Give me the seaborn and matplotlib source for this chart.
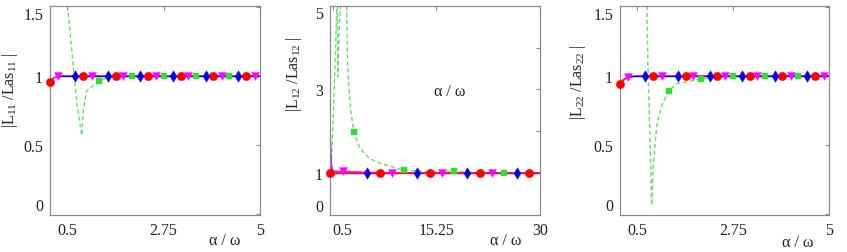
import matplotlib
matplotlib.use("Agg")
import matplotlib.pyplot as plt
import seaborn as sns
import numpy as np

# ---------------- data ----------------
# Panel 1: |L11 / Las11|
p1_red_x = [0.10, 0.20, 0.30, 5.00]
p1_red_y = [0.96, 0.99, 1.00, 1.00]
p1_mag_x = [0.15, 0.29, 5.00]
p1_mag_y = [0.98, 1.00, 1.00]
p1_blue_x = [0.29, 5.00]
p1_blue_y = [1.00, 1.00]
p1_green_x = [0.40, 0.51, 0.62, 0.72, 0.84, 0.88, 0.95, 1.23, 1.45, 2.00, 5.00]
p1_green_y = [2.00, 1.51, 1.15, 0.82, 0.57, 0.76, 0.89, 0.965, 0.99, 1.00, 1.00]

# marker positions shared by panels 1 and 3
m_red_x = [0.10, 0.87, 1.64, 2.38, 3.15, 3.90, 4.67]
m_mag_x = [0.29, 1.08, 1.80, 2.57, 3.32, 4.11, 4.88]
m_green_x = [1.24, 2.01, 2.76, 3.51, 4.28]
m_blue_x = [0.68, 1.45, 2.21, 2.97, 3.73, 4.49]

p1_m_red_y = [0.96, 1, 1, 1, 1, 1, 1]
p1_m_mag_y = [1.0, 1, 1, 1, 1, 1, 1]
p1_m_green_y = [0.965, 1, 1, 1, 1]
p1_m_blue_y = [1, 1, 1, 1, 1, 1]

# Panel 2: |L12 / Las12|
p2_red_x = [0.1, 30.0]
p2_red_y = [1.0, 1.0]
p2_mag_x = [0.1, 0.3, 0.5, 1.95, 8.9, 30.0]
p2_mag_y = [1.6, 1.2, 1.05, 1.04, 1.0, 1.0]
p2_blue_x = [0.1, 0.25, 0.5, 30.0]
p2_blue_y = [2.2, 1.1, 1.0, 1.0]
p2_green_x = [0.1, 0.35, 0.6, 0.8, 1.0, 1.15, 1.2, 1.4, 1.7, 2.4, 2.6, 3.0, 3.5,
              4.4, 5.8, 7.5, 9.2, 10.6, 14.0, 17.8, 20.0, 24.9, 30.0]
p2_green_y = [1.0, 1.45, 2.5, 3.5, 4.6, 5.6, 3.3, 4.3, 5.6, 5.6, 3.6, 2.55, 1.98,
              1.58, 1.34, 1.22, 1.14, 1.07, 1.04, 1.05, 1.02, 1.0, 1.0]

p2_m_red_x = [0.1, 7.2, 14.3, 21.5, 28.4]
p2_m_red_y = [1, 1, 1, 1, 1]
p2_m_mag_x = [1.95, 8.9, 16.1, 23.2]
p2_m_mag_y = [1.04, 1.0, 1.0, 1.0]
p2_m_green_x = [3.5, 10.6, 17.8, 24.9]
p2_m_green_y = [1.98, 1.07, 1.05, 1.0]
p2_m_blue_x = [5.4, 12.5, 19.6, 26.7]
p2_m_blue_y = [1, 1, 1, 1]

# Panel 3: |L22 / Las22|
p3_red_x = [0.10, 0.20, 0.30, 0.45, 5.00]
p3_red_y = [0.94, 0.975, 0.99, 1.00, 1.00]
p3_mag_x = [0.15, 0.29, 0.50, 5.00]
p3_mag_y = [0.97, 0.995, 1.00, 1.00]
p3_blue_x = [0.29, 5.00]
p3_blue_y = [1.00, 1.00]
p3_green_x = [0.65, 0.73, 0.76, 0.80, 0.83, 0.84, 0.88, 0.96, 1.08, 1.23, 1.43, 2.02, 2.75, 5.00]
p3_green_y = [2.5, 1.51, 1.0, 0.6, 0.24, 0.065, 0.35, 0.64, 0.79, 0.89, 0.945, 0.98, 1.0, 1.0]

p3_m_red_y = [0.94, 1, 1, 1, 1, 1, 1]
p3_m_mag_y = [0.995, 1, 1, 1, 1, 1, 1]
p3_m_green_y = [0.89, 0.98, 1, 1, 1]
p3_m_blue_y = [1, 1, 1, 1, 1, 1]

xticks_a = [0.5, 2.75, 5]
xticklabels_a = ["0.5", "2.75", "5"]
xticks_b = [0.5, 15.25, 30]
xticklabels_b = ["0.5", "15.25", "30"]
yticks_a = [0, 0.5, 1, 1.5]
yticklabels_a = ["0", "0.5", "1", "1.5"]
yticks_b = [0, 1, 2, 3, 4, 5]
yticklabels_b = ["0", "1", "", "3", "", "5"]

ylabels = [r"$|\mathrm{L}_{11}\ /\mathrm{Las}_{11}\ |$",
           r"$|\mathrm{L}_{12}\ /\mathrm{Las}_{12}\ |$",
           r"$|\mathrm{L}_{22}\ /\mathrm{Las}_{22}\ |$"]
xlabel_text = "α / ω"

# ---------------- style ----------------
sns.set_theme(style="white")
plt.rcParams["font.family"] = ["Liberation Serif", "DejaVu Serif"]
plt.rcParams["mathtext.fontset"] = "custom"
plt.rcParams["mathtext.rm"] = "Liberation Serif"
plt.rcParams["mathtext.it"] = "Liberation Serif:italic"

RED = "#ff0000"
MAG = "#ff00ff"
GREEN = "#33dd33"
GREEN_LINE = "#66dd66"
BLUE = "#0000ee"
SPINE = "#8a8a8a"
TXT = "#222222"
TICK_FS = 11.5
LAB_FS = 11.5

W, H = 847, 253
fig = plt.figure(figsize=(W / 100, H / 100), dpi=100)
fig.patch.set_facecolor("white")

ax_h = 209.3
bottom = (H - 216) / H
axes = [
    fig.add_axes([50 / W, bottom, 210 / W, ax_h / H]),
    fig.add_axes([330 / W, bottom, 210 / W, ax_h / H]),
    fig.add_axes([620 / W, bottom, 209 / W, ax_h / H]),
]


def draw_panel(ax, lines, markers):
    for (x, y, c, ls) in lines:
        sns.lineplot(x=x, y=y, ax=ax, color=c, linestyle=ls, linewidth=1.0,
                     sort=False, estimator=None, legend=False)
    for (x, y, c, m, s) in markers:
        sns.scatterplot(x=x, y=y, ax=ax, color=c, marker=m, s=s,
                        edgecolor=c, linewidth=0.3, clip_on=False, zorder=5,
                        legend=False)


def style_axis(ax, xlim, ylim, xt, xtl, yt, ytl):
    ax.set_xlim(*xlim)
    ax.set_ylim(*ylim)
    ax.set_xticks(xt)
    ax.set_xticklabels(xtl)
    ax.set_yticks(yt)
    ax.set_yticklabels(ytl)
    for sp in ax.spines.values():
        sp.set_color(SPINE)
        sp.set_linewidth(0.9)
        sp.set_visible(True)
    ax.tick_params(axis="both", which="both", direction="in", length=3,
                   width=0.8, color=SPINE, top=True, right=True,
                   labelsize=TICK_FS, labelcolor=TXT)
    ax.tick_params(axis="x", pad=5)
    ax.tick_params(axis="y", pad=5)
    ax.set_facecolor("white")
    ax.grid(False)
    ylabs = ax.get_yticklabels()
    ylabs[0].set_va("bottom")
    ylabs[-1].set_va("top")


# panel 1
draw_panel(axes[0],
           [(p1_green_x, p1_green_y, GREEN_LINE, (0, (3, 2))),
            (p1_red_x, p1_red_y, RED, "-"),
            (p1_mag_x, p1_mag_y, MAG, "-"),
            (p1_blue_x, p1_blue_y, BLUE, "-")],
           [(m_red_x, p1_m_red_y, RED, "o", 36),
            (m_mag_x, p1_m_mag_y, MAG, "v", 32),
            (m_green_x, p1_m_green_y, GREEN, "s", 18),
            (m_blue_x, p1_m_blue_y, BLUE, "d", 34)])
style_axis(axes[0], (0.1, 5.0), (-0.005, 1.51), xticks_a, xticklabels_a,
           yticks_a, yticklabels_a)

# panel 2
draw_panel(axes[1],
           [(p2_green_x, p2_green_y, GREEN_LINE, (0, (3, 2))),
            (p2_blue_x, p2_blue_y, BLUE, "-"),
            (p2_mag_x, p2_mag_y, MAG, "-"),
            (p2_red_x, p2_red_y, RED, "-")],
           [(p2_m_red_x, p2_m_red_y, RED, "o", 36),
            (p2_m_mag_x, p2_m_mag_y, MAG, "v", 32),
            (p2_m_green_x, p2_m_green_y, GREEN, "s", 18),
            (p2_m_blue_x, p2_m_blue_y, BLUE, "d", 34)])
style_axis(axes[1], (0.1, 30.0), (0, 5.0), xticks_b, xticklabels_b,
           yticks_b, yticklabels_b)
axes[1].get_xticklabels()[0].set_ha("left")
axes[1].text(0.571, 0.592, xlabel_text, transform=axes[1].transAxes,
             ha="center", va="center", fontsize=LAB_FS, color=TXT)

# panel 3
draw_panel(axes[2],
           [(p3_green_x, p3_green_y, GREEN_LINE, (0, (3, 2))),
            (p3_red_x, p3_red_y, RED, "-"),
            (p3_mag_x, p3_mag_y, MAG, "-"),
            (p3_blue_x, p3_blue_y, BLUE, "-")],
           [(m_red_x, p3_m_red_y, RED, "o", 36),
            (m_mag_x, p3_m_mag_y, MAG, "v", 32),
            (m_green_x, p3_m_green_y, GREEN, "s", 18),
            (m_blue_x, p3_m_blue_y, BLUE, "d", 34)])
style_axis(axes[2], (0.1, 5.0), (-0.005, 1.51), xticks_a, xticklabels_a,
           yticks_a, yticklabels_a)

# labels
ylab_pos = [(-0.19, 0.60), (-0.17, 0.68), (-0.20, 0.64)]
xlab_pos = [(0.833, -0.12), (0.838, -0.12), (0.85, -0.13)]
for ax, yl, yp, xp in zip(axes, ylabels, ylab_pos, xlab_pos):
    ax.set_ylabel(yl, fontsize=LAB_FS, color=TXT)
    ax.yaxis.set_label_coords(*yp)
    ax.yaxis.label.set_va("center")
    ax.set_xlabel(xlabel_text, fontsize=LAB_FS, color=TXT)
    ax.xaxis.set_label_coords(*xp)
    ax.xaxis.label.set_va("center")

fig.savefig("out.png", dpi=100, facecolor="white")
